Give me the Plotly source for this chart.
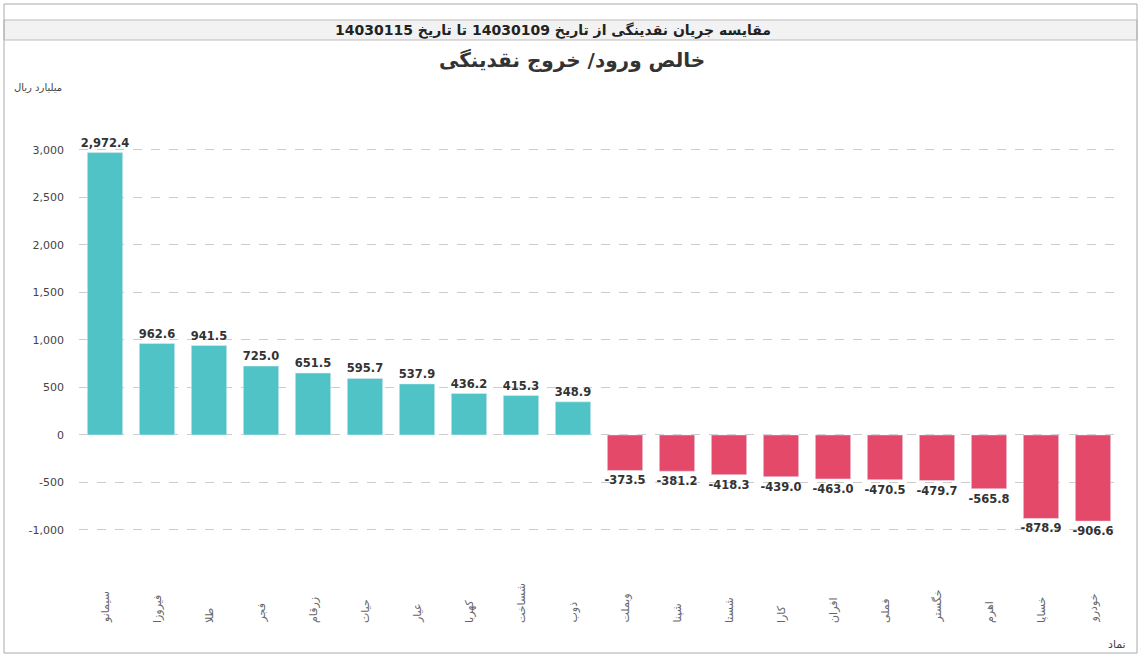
import plotly.graph_objects as go

categories = ["سیمانو","فیروزا","طلا","فجر","زرقام","حیات","عیار","کهربا","شساخت","ذوب",
              "وبملت","شپنا","شستا","کارا","افران","فملی","خگستر","اهرم","خساپا","خودرو"]
values = [2972.4,962.6,941.5,725.0,651.5,595.7,537.9,436.2,415.3,348.9,
          -373.5,-381.2,-418.3,-439.0,-463.0,-470.5,-479.7,-565.8,-878.9,-906.6]
tick_vals = [-1000,-500,0,500,1000,1500,2000,2500,3000]
tick_text = ["-1,000","-500","0","500","1,000","1,500","2,000","2,500","3,000"]

W, H = 1141, 657
L, R, T, B = 79, 22, 100, 97
pw, ph = W - L - R, H - T - B

def px(x): return (x - L) / pw
def py(y): return (H - B - y) / ph

colors = ["#4fc3c6" if v >= 0 else "#e5496a" for v in values]
labels = [f"<b>{v:,.1f}</b>" for v in values]

fig = go.Figure(go.Bar(
    x=categories, y=values, marker_color=colors, width=0.68,
    text=labels, textposition="outside", cliponaxis=False, constraintext="none",
    textfont=dict(family="DejaVu Sans", size=11.5, color="#333333"),
))

cat_annots = [dict(text=c, x=c, xref="x", yref="paper", y=py(625), xanchor="center",
                   yanchor="bottom", textangle=-90, showarrow=False,
                   font=dict(size=11, color="#666666")) for c in categories]

fig.update_layout(
    width=W, height=H, paper_bgcolor="white", plot_bgcolor="white",
    margin=dict(l=L, r=R, t=T, b=B), showlegend=False,
    font=dict(family="DejaVu Sans", color="#333333"),
    xaxis=dict(showticklabels=False, showline=False, range=[-0.5, 19.5]),
    yaxis=dict(range=[-1316, 3526], tickvals=tick_vals, ticktext=tick_text,
               showgrid=True, gridcolor="#cccccc", griddash="dash", zeroline=False,
               ticklabelstandoff=14, tickfont=dict(size=11, color="#444444")),
    shapes=[
        dict(type="rect", xref="paper", yref="paper", x0=px(4), x1=px(1137),
             y0=py(653), y1=py(4), line=dict(color="#aaaaaa", width=1)),
        dict(type="rect", xref="paper", yref="paper", x0=px(4), x1=px(1137),
             y0=py(40), y1=py(20), fillcolor="#f2f2f2", line=dict(color="#bbbbbb", width=1),
             layer="below"),
    ],
    annotations=cat_annots + [
        dict(text="<b>مقایسه جریان نقدینگی از تاریخ 14030109 تا تاریخ 14030115</b>",
             xref="paper", yref="paper", x=px(553), y=py(30), yanchor="middle", showarrow=False,
             font=dict(size=14, color="#222222")),
        dict(text="<b>خالص ورود/ خروج نقدینگی</b>", xref="paper", yref="paper",
             x=px(572), y=py(60), yanchor="middle", showarrow=False,
             font=dict(size=20, color="#333333")),
        dict(text="میلیارد ریال", xref="paper", yref="paper", x=px(12), y=py(87),
             yanchor="middle", showarrow=False, xanchor="left", font=dict(size=10, color="#444444")),
        dict(text="نماد", xref="paper", yref="paper", x=px(1128), y=py(644), yanchor="middle",
             showarrow=False, xanchor="right", font=dict(size=11, color="#444444")),
    ],
)
fig.write_html("out.html", config={"displayModeBar": False},
               post_script="document.body.style.margin='0';")
